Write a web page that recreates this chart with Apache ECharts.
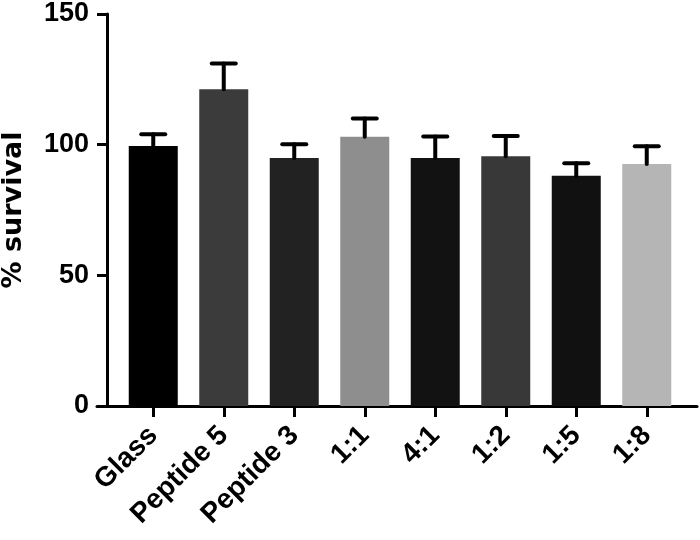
<!DOCTYPE html>
<html>
<head>
<meta charset="utf-8">
<script src="https://cdn.jsdelivr.net/npm/echarts@6/dist/echarts.min.js"></script>
<style>html,body{margin:0;padding:0;background:#fff}#c{width:700px;height:540px}</style>
</head>
<body>
<div id="c"></div>
<script>
const categories = ['Glass', 'Peptide 5', 'Peptide 3', '1:1', '4:1', '1:2', '1:5', '1:8'];
const means = [99.5, 121.2, 94.9, 103.0, 94.9, 95.6, 88.1, 92.6];
const errUpper = [104.0, 131.1, 100.2, 110.0, 103.1, 103.3, 92.9, 99.4];
const barColors = ['#000000', '#3b3b3b', '#222222', '#8e8e8e', '#121212', '#383838', '#111111', '#b5b5b5'];
const yTicks = [0, 50, 100, 150];

const chart = echarts.init(document.getElementById('c'), null, {renderer: 'canvas'});
const F = 'Liberation Sans, Arial, sans-serif';

chart.setOption({
  animation: false,
  backgroundColor: '#ffffff',
  grid: [
    {left: 118, right: 18, top: 14, bottom: 134, outerBoundsMode: 'none', containLabel: false},
    {left: 97, right: 3, top: 14, bottom: 134, outerBoundsMode: 'none', containLabel: false}
  ],
  xAxis: [
    {
      type: 'category', gridIndex: 0, data: categories, boundaryGap: true,
      axisLine: {show: true, lineStyle: {color: '#000', width: 3}},
      axisTick: {show: true, alignWithLabel: true, length: 11, lineStyle: {color: '#000', width: 3}},
      axisLabel: {rotate: 45, margin: 25, color: '#000', fontFamily: F, fontWeight: 'bold', fontSize: 28, interval: 0}
    },
    {
      type: 'value', gridIndex: 1, min: 0, max: 1,
      axisLine: {show: true, onZero: false, lineStyle: {color: '#000', width: 3}},
      axisTick: {show: false}, axisLabel: {show: false}, splitLine: {show: false}
    }
  ],
  yAxis: [
    {
      type: 'value', gridIndex: 0, min: yTicks[0], max: yTicks[yTicks.length - 1], interval: 50,
      offset: 11,
      name: '% survival', nameLocation: 'middle', nameGap: 80, nameRotate: 90,
      nameTextStyle: {color: '#000', fontFamily: 'DejaVu Sans, sans-serif', fontWeight: 'bold', fontSize: 27},
      axisLine: {show: true, lineStyle: {color: '#000', width: 3}},
      axisTick: {show: true, length: 10, lineStyle: {color: '#000', width: 3}},
      axisLabel: {margin: 18, color: '#000', fontFamily: F, fontWeight: 'bold', fontSize: 27},
      splitLine: {show: false}
    },
    {
      type: 'value', gridIndex: 1, show: false, min: 0, max: 1
    }
  ],
  series: [
    {
      type: 'bar', xAxisIndex: 0, yAxisIndex: 0,
      barWidth: 49,
      data: means.map((v, i) => ({value: v, itemStyle: {color: barColors[i]}})),
      z: 2
    },
    {
      type: 'custom', xAxisIndex: 0, yAxisIndex: 0, z: 3,
      data: means.map((v, i) => [i, v, errUpper[i]]),
      renderItem: function (params, api) {
        const base = api.coord([api.value(0), api.value(1)]);
        const top = api.coord([api.value(0), api.value(2)]);
        const half = 12;
        const style = {stroke: '#000', lineWidth: 4, lineCap: 'round'};
        return {
          type: 'group',
          children: [
            {type: 'line', shape: {x1: base[0], y1: base[1], x2: top[0], y2: top[1]}, style: style},
            {type: 'line', shape: {x1: top[0] - half, y1: top[1], x2: top[0] + half, y2: top[1]}, style: style}
          ]
        };
      }
    }
  ]
});
</script>
</body>
</html>
